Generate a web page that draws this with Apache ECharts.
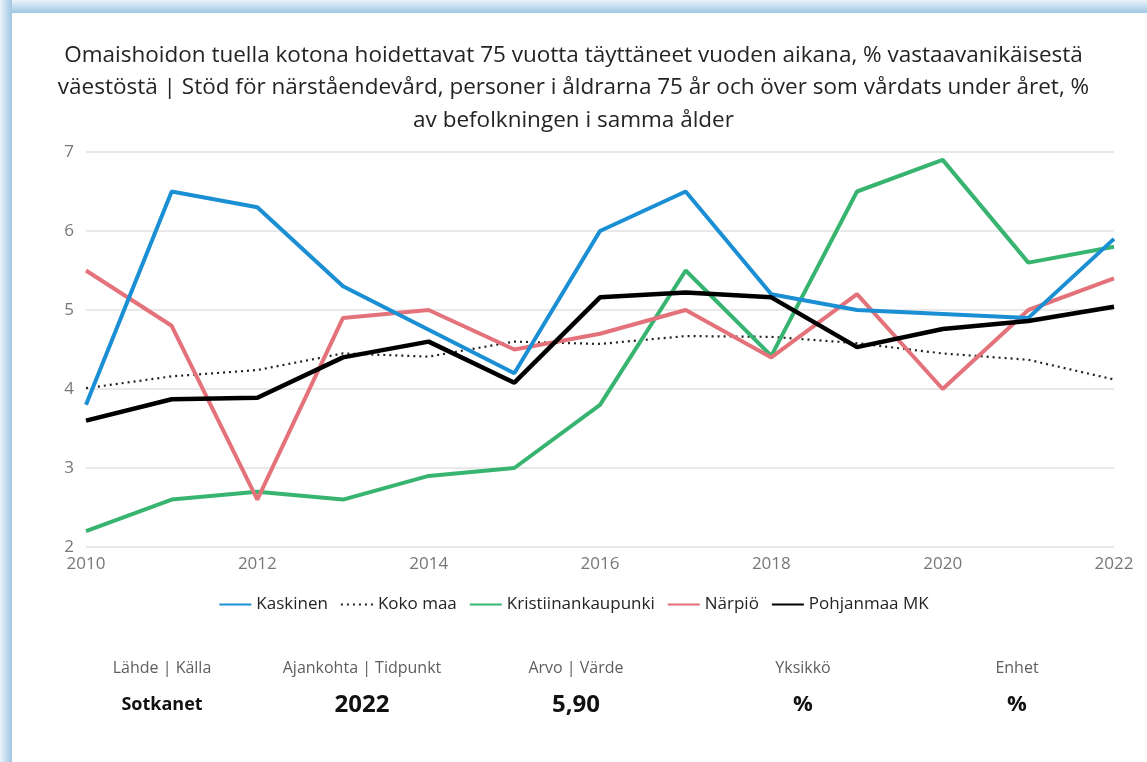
<!DOCTYPE html>
<html>
<head>
<meta charset="utf-8">
<script src="https://cdn.jsdelivr.net/npm/echarts@6/dist/echarts.min.js"></script>
<style>
  html, body { margin: 0; padding: 0; background: #fff; overflow: hidden; }
  #frame {
    position: absolute; left: 0; top: 0; width: 1147px; height: 762px;
    background: linear-gradient(to right, #eaf3fa, #9fc6e3) left/12px 100% no-repeat,
                linear-gradient(to bottom, #eaf3fa, #9fc6e3) top/100% 13px no-repeat;
  }
  #main { position: absolute; left: 0; top: 0; width: 1147px; height: 762px; }
  #card { position: absolute; left: 12px; top: 13px; right: 0; bottom: 0; background: #fff; }
</style>
</head>
<body>
<div id="frame"></div>
<div id="card"></div>
<div id="main"></div>
<script>
// vuodet
const years = ['2010', '2011', '2012', '2013', '2014', '2015', '2016', '2017', '2018', '2019', '2020', '2021', '2022']

const kaskinen = [3.8, 6.5, 6.3, 5.3, 4.75, 4.2, 6.0, 6.5, 5.2, 5.0, 4.95, 4.9, 5.9]
const kokoMaa = [4.01, 4.16, 4.24, 4.45, 4.41, 4.6, 4.57, 4.67, 4.66, 4.58, 4.45, 4.37, 4.12]
const kristiinankaupunki = [2.2, 2.6, 2.7, 2.6, 2.9, 3.0, 3.8, 5.5, 4.42, 6.5, 6.9, 5.6, 5.8]
const narpio = [5.5, 4.8, 2.6, 4.9, 5.0, 4.5, 4.7, 5.0, 4.4, 5.2, 4.0, 5.0, 5.4]
const pohjanmaa = [3.6, 3.87, 3.89, 4.4, 4.6, 4.08, 5.16, 5.22, 5.16, 4.53, 4.76, 4.86, 5.04]

// alaosan taulukko
const infoHeaders = ['Lähde | Källa', 'Ajankohta | Tidpunkt', 'Arvo | Värde', 'Yksikkö', 'Enhet']
const infoValues = ['Sotkanet', '2022', '5,90', '%', '%']
const infoCenters = [162, 362, 576, 803, 1017]
const infoSizes = [18, 24, 24, 22, 22]

const titleText = 'Omaishoidon tuella kotona hoidettavat 75 vuotta täyttäneet vuoden aikana, % vastaavanikäisestä\nväestöstä | Stöd för närståendevård, personer i åldrarna 75 år och över som vårdats under året, %\nav befolkningen i samma ålder'

const font = '"Open Sans", "Noto Sans", sans-serif'

const myChart = echarts.init(document.getElementById('main'))

const lineSeries = (name, data, color, width, type) => ({
  name: name,
  type: 'line',
  data: data,
  symbol: 'none',
  smooth: false,
  lineStyle: { color: color, width: width, type: type || 'solid' },
  itemStyle: { color: color },
  emphasis: { disabled: true }
})

const graphics = []
infoHeaders.forEach((h, i) => {
  graphics.push({
    type: 'text', x: infoCenters[i], y: 668,
    style: { text: h, fill: '#605e5c', font: '16px ' + font, align: 'center', verticalAlign: 'middle' }
  })
  graphics.push({
    type: 'text', x: infoCenters[i], y: 705,
    style: { text: infoValues[i], fill: '#111', font: 'bold ' + infoSizes[i] + 'px ' + font, align: 'center', verticalAlign: 'middle' }
  })
})

myChart.setOption({
  animation: false,
  textStyle: { fontFamily: font },
  title: {
    text: titleText,
    left: 'center',
    top: 34,
    textStyle: { fontSize: 22.5, fontWeight: 'normal', color: '#252423', lineHeight: 32.5, fontFamily: font }
  },
  legend: {
    top: 591,
    left: 'center',
    itemWidth: 32,
    itemHeight: 14,
    itemGap: 12,
    itemStyle: { opacity: 0 },
    textStyle: { fontSize: 17, color: '#252423', fontFamily: font },
    data: ['Kaskinen', 'Koko maa', 'Kristiinankaupunki', 'Närpiö', 'Pohjanmaa MK']
  },
  grid: { left: 86, right: 33, top: 152, bottom: 215, containLabel: false },
  xAxis: {
    type: 'category',
    data: years,
    boundaryGap: false,
    axisLine: { show: false },
    axisTick: { show: false },
    axisLabel: { interval: 1, color: '#777', fontSize: 17, margin: 9, fontFamily: font },
    splitLine: { show: false }
  },
  yAxis: {
    type: 'value',
    min: 2,
    max: 7,
    interval: 1,
    axisLine: { show: false },
    axisTick: { show: false },
    axisLabel: { color: '#777', fontSize: 17, margin: 12, fontFamily: font },
    splitLine: { lineStyle: { color: '#e1e1e1', width: 1.5 } }
  },
  series: [
    lineSeries('Koko maa', kokoMaa, '#222', 2.2, [2, 4]),
    lineSeries('Kristiinankaupunki', kristiinankaupunki, '#37b46f', 4),
    lineSeries('Närpiö', narpio, '#e3727b', 4),
    lineSeries('Kaskinen', kaskinen, '#1a8fd3', 4),
    lineSeries('Pohjanmaa MK', pohjanmaa, '#000', 4.5)
  ],
  graphic: graphics
})
</script>
</body>
</html>
